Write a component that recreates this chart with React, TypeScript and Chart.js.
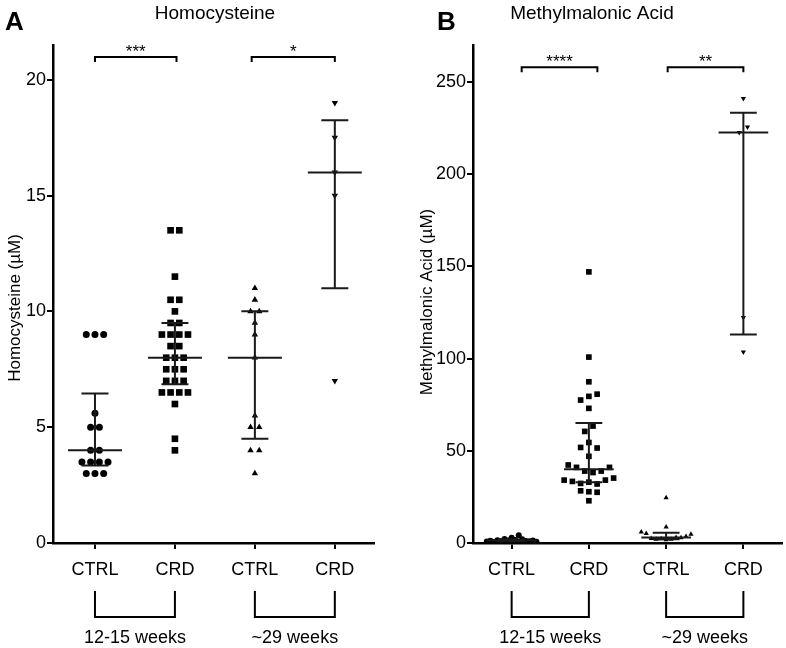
import React, { useEffect, useRef } from 'react';
import { Chart, registerables } from 'chart.js';

Chart.register(...registerables);

const FONT = "'Liberation Sans', Arial, Helvetica, sans-serif";

// ---------- data ----------
const CATEGORIES = ['CTRL', 'CRD', 'CTRL', 'CRD'];
const GROUP_LABELS = ['12-15 weeks', '~29 weeks'];

// Homocysteine (µM)
const HCY_CTRL_12 = [9, 9, 9, 5.6, 5, 5, 4, 4, 3.5, 3.5, 3.5, 3.5, 3, 3, 3];
const HCY_CRD_12 = [13.5, 13.5, 11.5, 10.5, 10.5, 10, 9.5, 9.5, 9, 9, 9, 9, 8.5, 8.5, 8, 8, 8, 7.5, 7.5, 7.5, 7, 7, 7, 6.5, 6.5, 6.5, 6.5, 6, 4.5, 4];
const HCY_CTRL_29 = [11, 10.5, 10, 10, 9.5, 9, 8, 5.5, 5, 5, 4, 4, 3];
const HCY_CRD_29 = [19, 17.5, 16, 15, 7];
const HCY_MEDIAN = [4, 8, 8, 16];
const HCY_Q1 = [3.35, 6.85, 4.5, 11];
const HCY_Q3 = [6.45, 9.5, 10, 18.25];
const HCY_TICKS = [0, 5, 10, 15, 20];

// Methylmalonic acid (µM)
const MMA_CTRL_12 = [0.8, 1.2, 0.6, 1.5, 1.0, 2.2, 1.4, 2.8, 1.6, 4.2, 2.0, 1.1, 0.9, 1.3, 0.7];
const MMA_CRD_12 = [147, 100.8, 87.4, 77.5, 79.5, 80.7, 73, 60.5, 63.4, 51.8, 54.5, 51.5, 47, 42.3, 41, 39, 38.2, 39, 41, 34.1, 33.4, 32.3, 33, 32.0, 34.1, 35.2, 28.3, 27.8, 27.5, 22.9];
const MMA_CTRL_29 = [24.5, 8.7, 6, 5.2, 2.5, 2.0, 2.3, 1.8, 2.0, 3.0, 2.8, 3.5, 4.8];
const MMA_CRD_29 = [241, 222.5, 225.5, 122.3, 103.6];
const MMA_MEDIAN = [1.3, 40, 3, 222.5];
const MMA_Q1 = [0.9, 33, 2.1, 113];
const MMA_Q3 = [1.9, 65, 5.6, 233.3];
const MMA_TICKS = [0, 50, 100, 150, 200, 250];

// significance brackets
const HCY_SIG_FROM = [0, 1.96];
const HCY_SIG_TO = [1.02, 3];
const HCY_SIG_LABELS = ['***', '*'];
const HCY_SIG_LEVEL = 20.98;
const MMA_SIG_FROM = [0.13, 2.02];
const MMA_SIG_TO = [1.11, 3];
const MMA_SIG_LABELS = ['****', '**'];
const MMA_SIG_LEVEL = 258;

type Marker = { style: any; rotation: number; radius: number };

type PanelSpec = {
  letter: string;
  letterX: number;
  title: string;
  titleX: number;
  yTitle: string;
  yTitleX: number;
  yTitleY: number;
  yMax: number;
  yTicks: number[];
  xMin: number;
  xMax: number;
  groups: number[][];
  median: number[];
  q1: number[];
  q3: number[];
  markers: Marker[];
  sigFrom: number[];
  sigTo: number[];
  sigLabels: string[];
  sigLevel: number;
  left: number;
  width: number;
  axisW: number;
  padRight: number;
  medianHalfPx: number;
  capHalfPx: number;
  swarmStepPx: number;
  swarmMaxPx: number;
};

const PANELS: PanelSpec[] = [
  {
    letter: 'A', letterX: 5, title: 'Homocysteine', titleX: 215,
    yTitle: 'Homocysteine (\u00B5M)', yTitleX: 15, yTitleY: 308,
    yMax: 21.5, yTicks: HCY_TICKS, xMin: -0.525, xMax: 3.49,
    groups: [HCY_CTRL_12, HCY_CRD_12, HCY_CTRL_29, HCY_CRD_29],
    median: HCY_MEDIAN, q1: HCY_Q1, q3: HCY_Q3,
    markers: [
      { style: 'circle', rotation: 0, radius: 3.5 },
      { style: 'rect', rotation: 0, radius: 4.7 },
      { style: 'triangle', rotation: 0, radius: 3.7 },
      { style: 'triangle', rotation: 180, radius: 3.7 },
    ],
    sigFrom: HCY_SIG_FROM, sigTo: HCY_SIG_TO, sigLabels: HCY_SIG_LABELS, sigLevel: HCY_SIG_LEVEL,
    left: 0, width: 405, axisW: 53, padRight: 31,
    medianHalfPx: 27, capHalfPx: 13.5, swarmStepPx: 8.7, swarmMaxPx: 50,
  },
  {
    letter: 'B', letterX: 32, title: 'Methylmalonic Acid', titleX: 187,
    yTitle: 'Methylmalonic Acid (\u00B5M)', yTitleX: 22, yTitleY: 302,
    yMax: 270, yTicks: MMA_TICKS, xMin: -0.5, xMax: 3.5,
    groups: [MMA_CTRL_12, MMA_CRD_12, MMA_CTRL_29, MMA_CRD_29],
    median: MMA_MEDIAN, q1: MMA_Q1, q3: MMA_Q3,
    markers: [
      { style: 'circle', rotation: 0, radius: 3 },
      { style: 'rect', rotation: 0, radius: 4.0 },
      { style: 'triangle', rotation: 0, radius: 3 },
      { style: 'triangle', rotation: 180, radius: 3 },
    ],
    sigFrom: MMA_SIG_FROM, sigTo: MMA_SIG_TO, sigLabels: MMA_SIG_LABELS, sigLevel: MMA_SIG_LEVEL,
    left: 405, width: 381, axisW: 68, padRight: 2,
    medianHalfPx: 25, capHalfPx: 13.5, swarmStepPx: 8.3, swarmMaxPx: 50,
  },
];

const CANVAS_H = 648;
const PLOT_TOP = 45;
const X_AXIS_H = 105;

// beeswarm-like horizontal spreading of points that share a row
function swarmOffsets(values: number[], binUnits: number, stepPx: number, maxPx: number): number[] {
  const idx = values.map((_, i) => i).sort((a, b) => values[a] - values[b] || a - b);
  const offsets = new Array(values.length).fill(0);
  let i = 0;
  while (i < idx.length) {
    const start = values[idx[i]];
    const bin: number[] = [];
    while (i < idx.length && values[idx[i]] < start + binUnits) {
      bin.push(idx[i]);
      i++;
    }
    bin.sort((a, b) => a - b);
    const n = bin.length;
    const step = n > 1 ? Math.min(stepPx, maxPx / (n - 1)) : 0;
    bin.forEach((k, j) => {
      offsets[k] = (j - (n - 1) / 2) * step;
    });
  }
  return offsets;
}

function overlayPlugin(spec: PanelSpec) {
  return {
    id: 'overlay' + spec.letter,
    afterDraw(chart: any) {
      const { ctx, chartArea: ca, scales } = chart;
      const xs = scales.x;
      const ys = scales.y;
      ctx.save();
      ctx.fillStyle = '#000';
      ctx.strokeStyle = '#000';
      ctx.textBaseline = 'alphabetic';

      // panel letter
      ctx.font = `bold 26px ${FONT}`;
      ctx.textAlign = 'left';
      ctx.fillText(spec.letter, spec.letterX, 30);

      // panel title
      ctx.font = `19px ${FONT}`;
      ctx.textAlign = 'center';
      ctx.fillText(spec.title, spec.titleX, 19);

      // y axis title
      ctx.save();
      ctx.translate(spec.yTitleX, spec.yTitleY);
      ctx.rotate(-Math.PI / 2);
      ctx.font = `17px ${FONT}`;
      ctx.textBaseline = 'middle';
      ctx.fillText(spec.yTitle, 0, 0);
      ctx.restore();

      // significance brackets
      ctx.lineWidth = 2;
      const sy = ys.getPixelForValue(spec.sigLevel);
      spec.sigLabels.forEach((lab, i) => {
        const x1 = xs.getPixelForValue(spec.sigFrom[i]);
        const x2 = xs.getPixelForValue(spec.sigTo[i]);
        ctx.beginPath();
        ctx.moveTo(x1, sy + 5);
        ctx.lineTo(x1, sy);
        ctx.lineTo(x2, sy);
        ctx.lineTo(x2, sy + 5);
        ctx.stroke();
        ctx.font = `17px ${FONT}`;
        ctx.fillText(lab, (x1 + x2) / 2, sy);
      });

      // group brackets under the axis
      const gTop = ca.bottom + 48;
      const gBot = ca.bottom + 74;
      GROUP_LABELS.forEach((lab, g) => {
        const x1 = xs.getPixelForValue(g * 2);
        const x2 = xs.getPixelForValue(g * 2 + 1);
        ctx.beginPath();
        ctx.moveTo(x1, gTop);
        ctx.lineTo(x1, gBot);
        ctx.lineTo(x2, gBot);
        ctx.lineTo(x2, gTop);
        ctx.stroke();
        ctx.font = `18px ${FONT}`;
        ctx.fillText(lab, (x1 + x2) / 2, ca.bottom + 100);
      });
      ctx.restore();
    },
  };
}

function buildChart(canvas: HTMLCanvasElement, spec: PanelSpec) {
  const axisFont = { family: FONT, size: 18 };
  const chart = new Chart(canvas, {
    type: 'scatter',
    data: { datasets: [] },
    options: {
      animation: false,
      responsive: false,
      maintainAspectRatio: false,
      devicePixelRatio: 1,
      layout: { padding: { top: PLOT_TOP, right: spec.padRight, left: 0, bottom: 0 } },
      plugins: { legend: { display: false }, tooltip: { enabled: false } },
      scales: {
        x: {
          type: 'linear',
          min: spec.xMin,
          max: spec.xMax,
          afterFit: (s: any) => { s.height = X_AXIS_H; },
          afterBuildTicks: (s: any) => { s.ticks = CATEGORIES.map((_, i) => ({ value: i })); },
          ticks: {
            autoSkip: false,
            maxRotation: 0,
            font: axisFont,
            color: '#000',
            padding: 10,
            callback: (v: any) => CATEGORIES[v] ?? '',
          },
          grid: { drawOnChartArea: false, drawTicks: true, tickLength: 6, color: '#000', lineWidth: 2 },
          border: { display: true, color: '#000', width: 2.5 },
        },
        y: {
          type: 'linear',
          min: 0,
          max: spec.yMax,
          afterFit: (s: any) => { s.width = spec.axisW; },
          afterBuildTicks: (s: any) => { s.ticks = spec.yTicks.map((v) => ({ value: v })); },
          ticks: { font: axisFont, color: '#000', padding: 1 },
          grid: { drawOnChartArea: false, drawTicks: true, tickLength: 6, color: '#000', lineWidth: 2 },
          border: { display: true, color: '#000', width: 2.5 },
        },
      },
    } as any,
    plugins: [overlayPlugin(spec)],
  });

  const xs: any = chart.scales.x;
  const ys: any = chart.scales.y;
  const pxPerX = Math.abs(xs.getPixelForValue(1) - xs.getPixelForValue(0));
  const pxPerY = Math.abs(ys.getPixelForValue(0) - ys.getPixelForValue(1));
  const binUnits = 8 / pxPerY;
  const medHalf = spec.medianHalfPx / pxPerX;
  const capHalf = spec.capHalfPx / pxPerX;

  const barSets = spec.groups.map((_, g) => {
    const pts: any[] = [
      { x: g - medHalf, y: spec.median[g] }, { x: g + medHalf, y: spec.median[g] }, { x: g, y: null },
      { x: g - capHalf, y: spec.q3[g] }, { x: g + capHalf, y: spec.q3[g] }, { x: g, y: null },
      { x: g - capHalf, y: spec.q1[g] }, { x: g + capHalf, y: spec.q1[g] }, { x: g, y: null },
      { x: g, y: spec.q3[g] }, { x: g, y: spec.q1[g] },
    ];
    return {
      label: CATEGORIES[g] + ' median/IQR ' + g,
      data: pts,
      showLine: true,
      spanGaps: false,
      borderColor: '#1a1a1a',
      borderWidth: 2,
      pointRadius: 0,
      pointHoverRadius: 0,
      fill: false,
    };
  });

  const pointSets = spec.groups.map((vals, g) => {
    const offs = swarmOffsets(vals, binUnits, spec.swarmStepPx, spec.swarmMaxPx);
    const m = spec.markers[g];
    return {
      label: CATEGORIES[g] + ' ' + GROUP_LABELS[g < 2 ? 0 : 1],
      data: vals.map((v, i) => ({ x: g + offs[i] / pxPerX, y: v })),
      showLine: false,
      pointStyle: m.style,
      rotation: m.rotation,
      pointRadius: m.radius,
      pointHoverRadius: m.radius,
      pointBackgroundColor: '#000',
      pointBorderColor: '#000',
      pointBorderWidth: 0,
    };
  });

  (chart.data as any).datasets = [...barSets, ...pointSets];
  chart.update('none');
  return chart;
}

export default function App() {
  const refA = useRef<HTMLCanvasElement | null>(null);
  const refB = useRef<HTMLCanvasElement | null>(null);

  useEffect(() => {
    const charts: Chart[] = [];
    if (refA.current) charts.push(buildChart(refA.current, PANELS[0]));
    if (refB.current) charts.push(buildChart(refB.current, PANELS[1]));
    return () => charts.forEach((c) => c.destroy());
  }, []);

  return (
    <div style={{ position: 'absolute', left: 0, top: 0, width: 786, height: CANVAS_H, background: '#fff', overflow: 'hidden' }}>
      {PANELS.map((p, i) => (
        <canvas
          key={p.letter}
          ref={i === 0 ? refA : refB}
          width={p.width}
          height={CANVAS_H}
          style={{ position: 'absolute', left: p.left, top: 0, width: p.width, height: CANVAS_H }}
        />
      ))}
    </div>
  );
}
